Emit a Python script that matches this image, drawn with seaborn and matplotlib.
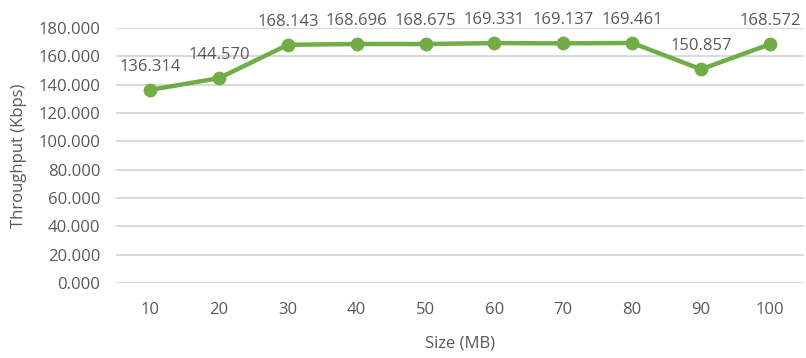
import matplotlib
matplotlib.use("Agg")
import matplotlib.pyplot as plt
import seaborn as sns
import pandas as pd

sizes = ["10", "20", "30", "40", "50", "60", "70", "80", "90", "100"]
throughput = [136.314, 144.570, 168.143, 168.696, 168.675, 169.331, 169.137, 169.461, 150.857, 168.572]
y_ticks = [0, 20, 40, 60, 80, 100, 120, 140, 160, 180]

sns.set_theme(style="white")
plt.rcParams["font.family"] = ["Open Sans", "DejaVu Sans"]

text_color = "#595959"
green = "#70AD47"
grid_color = "#D9D9D9"
fs = 12

df = pd.DataFrame({"Size (MB)": sizes, "Throughput (Kbps)": throughput})

fig = plt.figure(figsize=(8.06, 3.58), dpi=100)
ax = fig.add_axes([0.1434, 0.2095, 0.8546, 0.7123])

sns.pointplot(data=df, x="Size (MB)", y="Throughput (Kbps)", ax=ax,
              color=green, markers="o", markersize=7.5, linewidth=3.2,
              errorbar=None, zorder=3)

ax.set_ylim(0, 180)
ax.set_xlim(-0.5, len(sizes) - 0.5)
ax.set_yticks(y_ticks)
ax.set_yticklabels([f"{v:.3f}" for v in y_ticks])
for v in y_ticks:
    ax.axhline(v, color=grid_color, linewidth=1.4, zorder=1)

for s in ax.spines.values():
    s.set_visible(False)
ax.tick_params(axis="both", length=0, labelsize=fs, colors=text_color)
ax.tick_params(axis="y", pad=11)
ax.tick_params(axis="x", pad=14)

for i, v in enumerate(throughput):
    ax.annotate(f"{v:.3f}", (i, v), xytext=(0, 11), textcoords="offset points",
                ha="center", va="bottom", fontsize=fs, color=text_color)

ax.set_xlabel("Size (MB)", fontsize=fs, color=text_color, labelpad=12)
ax.set_ylabel("Throughput (Kbps)", fontsize=fs, color=text_color)
ax.yaxis.set_label_coords(-0.128, 0.5)

fig.savefig("out.png", dpi=100, facecolor="white")
